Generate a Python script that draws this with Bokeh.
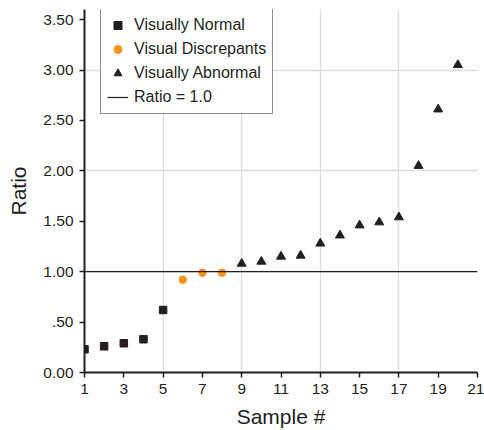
from bokeh.plotting import figure
from bokeh.models import FixedTicker, Legend, LegendItem, Range1d
from bokeh.embed import file_html
from bokeh.resources import INLINE

# data
normal_x = [1, 2, 3, 4, 5]
normal_y = [0.23, 0.26, 0.29, 0.33, 0.62]
discrep_x = [6, 7, 8]
discrep_y = [0.92, 0.99, 0.99]
abnormal_x = [9, 10, 11, 12, 13, 14, 15, 16, 17, 18, 19, 20]
abnormal_y = [1.08, 1.10, 1.15, 1.16, 1.28, 1.36, 1.46, 1.49, 1.54, 2.05, 2.61, 3.05]
ratio_level = 1.0
x_ticks = [1, 3, 5, 7, 9, 11, 13, 15, 17, 19, 21]
y_ticks = [0.0, 0.5, 1.0, 1.5, 2.0, 2.5, 3.0, 3.5]
y_tick_labels = ["0.00", ".50", "1.00", "1.50", "2.00", "2.50", "3.00", "3.50"]
x_grid = [1, 5, 9, 13, 17, 21]
y_grid = [0, 1, 2, 3]

FONT = "Liberation Sans"
DARK = "#231f20"
ORANGE = "#f7941d"

x_min, x_max = 1, 21
p = figure(width=484, height=430, output_backend="svg", toolbar_location=None,
           x_range=Range1d(x_min, x_max), y_range=Range1d(0, 3.6),
           min_border_left=84, min_border_right=7, min_border_top=9, min_border_bottom=56)
p.outline_line_color = None

r_norm = p.scatter(normal_x, normal_y, marker="square", size=7.5, color=DARK)
r_disc = p.scatter(discrep_x, discrep_y, marker="circle", size=7.5, color=ORANGE)
r_abn = p.scatter(abnormal_x, abnormal_y, marker="triangle", size=9, color=DARK)
r_line = p.line([x_min, x_max], [ratio_level, ratio_level], line_color=DARK, line_width=1.2)

# axes
p.xaxis.ticker = FixedTicker(ticks=x_ticks)
p.yaxis.ticker = FixedTicker(ticks=y_ticks)
p.yaxis.major_label_overrides = {t: l for t, l in zip(y_ticks, y_tick_labels)}
for ax in (p.xaxis, p.yaxis):
    ax.axis_line_color = DARK
    ax.axis_line_width = 2
    ax.major_tick_line_color = DARK
    ax.major_tick_line_width = 1.5
    ax.major_tick_out = 5
    ax.major_tick_in = 0
    ax.minor_tick_line_color = None
    ax.major_label_text_font = FONT
    ax.major_label_text_font_size = "15.5px"
    ax.major_label_text_color = DARK
    ax.axis_label_text_font = FONT
    ax.axis_label_text_font_style = "normal"
    ax.axis_label_text_color = DARK
    ax.axis_label_text_font_size = "21px"
p.xaxis.axis_label = "Sample #"
p.yaxis.axis_label = "Ratio"
p.xaxis.major_label_standoff = 6
p.yaxis.major_label_standoff = 6
p.xaxis.axis_label_standoff = 8
p.yaxis.axis_label_standoff = 10

p.xgrid.ticker = FixedTicker(ticks=x_grid)
p.ygrid.ticker = FixedTicker(ticks=y_grid)
p.xgrid.grid_line_color = "#dddddd"
p.ygrid.grid_line_color = "#dddddd"
p.xgrid.grid_line_width = 1.3
p.ygrid.grid_line_width = 1.3

legend = Legend(items=[
    LegendItem(label="Visually Normal", renderers=[r_norm]),
    LegendItem(label="Visual Discrepants", renderers=[r_disc]),
    LegendItem(label="Visually Abnormal", renderers=[r_abn]),
    LegendItem(label="Ratio = 1.0", renderers=[r_line]),
], location=(16, 258))
legend.label_text_font = FONT
legend.label_text_font_size = "16px"
legend.label_text_color = DARK
legend.border_line_color = DARK
legend.border_line_width = 1
legend.background_fill_alpha = 1
legend.padding = 6
legend.spacing = 4
legend.glyph_width = 21
legend.glyph_height = 20
legend.label_height = 20
legend.label_standoff = 6
legend.margin = 0
p.add_layout(legend)

open("out.html", "w").write(file_html(p, INLINE))
